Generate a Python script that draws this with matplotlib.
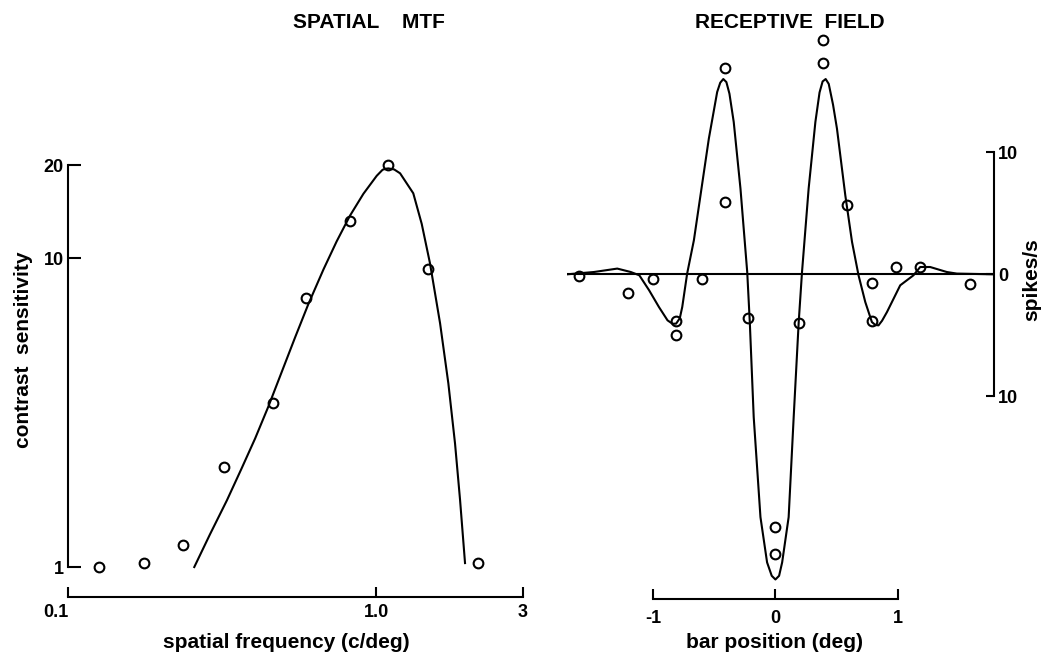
import matplotlib
matplotlib.use("Agg")
import matplotlib.pyplot as plt
from matplotlib.ticker import NullLocator, NullFormatter

plt.rcParams['font.family'] = ['Liberation Sans', 'DejaVu Sans']
plt.rcParams['font.weight'] = 'bold'
plt.rcParams['axes.labelweight'] = 'bold'

# spatial MTF: measured contrast sensitivity
mtf_freq = [0.126, 0.176, 0.237, 0.322, 0.464, 0.593, 0.823, 1.09, 1.47, 2.14]
mtf_sens = [1.0, 1.03, 1.18, 2.1, 3.4, 7.4, 13.2, 20.0, 9.2, 1.03]

# fitted MTF curve
fit_freq = [0.257, 0.289, 0.328, 0.366, 0.405, 0.447, 0.494, 0.546, 0.603,
            0.675, 0.745, 0.823, 0.910, 1.005, 1.05, 1.075, 1.096, 1.145,
            1.197, 1.321, 1.407, 1.497, 1.614, 1.717, 1.805, 1.874, 1.945]
fit_sens = [1.0, 1.276, 1.644, 2.084, 2.606, 3.304, 4.276, 5.534, 7.096,
            9.183, 11.32, 13.71, 16.14, 18.45, 19.3, 19.45, 19.5, 19.35,
            18.8, 16.2, 12.9, 9.61, 6.15, 3.93, 2.51, 1.65, 1.03]

# receptive field: response to a bar at each position
rf_pos = [-1.60, -1.20, -1.00, -0.81, -0.81, -0.60, -0.41, -0.41, -0.22, 0.0,
          0.0, 0.195, 0.39, 0.39, 0.58, 0.79, 0.79, 0.985, 1.18, 1.59]
rf_rate = [-0.16, -1.5, -0.35, -3.85, -5.0, -0.35, 16.9, 5.9, -3.6, -20.7,
           -22.9, -4.0, 19.2, 17.3, 5.7, -0.7, -3.8, 0.6, 0.6, -0.77]

# receptive field predicted from the MTF fit
rf_fit_pos = [-1.70, -1.48, -1.29, -1.18, -1.11, -1.03, -0.95, -0.88, -0.84,
              -0.81, -0.78, -0.76, -0.72, -0.665, -0.611, -0.543, -0.475,
              -0.45, -0.425, -0.40, -0.375, -0.340, -0.285, -0.230, -0.209,
              -0.177, -0.122, -0.068, -0.03, 0.0, 0.03, 0.055, 0.108, 0.149,
              0.190, 0.217, 0.271, 0.326, 0.360, 0.385, 0.41, 0.435, 0.470,
              0.502, 0.570, 0.625, 0.678, 0.733, 0.787, 0.815, 0.841, 0.870,
              0.910, 1.018, 1.126, 1.181, 1.262, 1.398, 1.480, 1.78]
rf_fit_rate = [0.0, 0.19, 0.47, 0.19, -0.08, -1.31, -2.68, -3.77, -4.05,
               -4.04, -3.6, -2.68, 0.06, 2.79, 6.48, 11.12, 14.94,
               15.7, 16.0, 15.75, 14.8, 12.48, 7.02, 0.19, -3.91,
               -11.70, -19.89, -23.6, -24.7, -25.0, -24.7, -23.6, -19.89, -11.70,
               -3.91, 0.19, 7.02, 12.48, 14.9, 15.8, 16.0, 15.6, 13.9,
               11.94, 6.48, 2.65, -0.08, -2.27, -3.91, -4.15, -4.18, -3.8,
               -3.09, -0.90, -0.08, 0.60, 0.60, 0.19, 0.06, 0.0]

W, H = 1043, 657
fig = plt.figure(figsize=(W / 100, H / 100), dpi=100)

ax1 = fig.add_axes([68 / W, 1 - 597 / H, 455 / W, 432 / H])
ax2 = fig.add_axes([567 / W, 1 - 599 / H, 427 / W, 581 / H])

circ = dict(linestyle='none', marker='o', mfc='none', mec='k', mew=1.5, ms=7,
            clip_on=False, zorder=3)

# left: spatial MTF on log-log axes
ax1.set_xscale('log')
ax1.set_yscale('log')
ax1.plot(fit_freq, fit_sens, color='k', lw=1.5)
ax1.plot(mtf_freq, mtf_sens, **circ)
ax1.set_xlim(0.1, 3)
ax1.set_ylim(0.8, 20)
ax1.spines[['top', 'right']].set_visible(False)
ax1.spines['left'].set_bounds(1, 20)
ax1.spines['bottom'].set_bounds(0.1, 3)
for s in ax1.spines.values():
    s.set_linewidth(1.5)
ax1.set_xticks([0.1, 1.0, 3])
ax1.set_xticklabels(['0.1', '1.0', '3'])
ax1.get_xticklabels()[0].set_horizontalalignment('right')
ax1.set_yticks([1, 10, 20])
ax1.set_yticklabels(['1', '10', '20'])
for axis in (ax1.xaxis, ax1.yaxis):
    axis.set_minor_locator(NullLocator())
    axis.set_minor_formatter(NullFormatter())
ax1.tick_params(axis='x', direction='in', length=7, width=1.5, pad=5, labelsize=13)
ax1.tick_params(axis='y', direction='in', length=9, width=1.5, pad=3, labelsize=13)
ax1.set_xlabel('spatial frequency (c/deg)', fontsize=15)
ax1.xaxis.set_label_coords(0.479, -0.083)
ax1.set_ylabel('contrast  sensitivity', fontsize=15)
ax1.yaxis.set_label_coords(-0.077, 0.572)

# right: receptive field profile
ax2.axhline(0, color='k', lw=1.5)
ax2.plot(rf_fit_pos, rf_fit_rate, color='k', lw=1.5)
ax2.plot(rf_pos, rf_rate, **circ)
ax2.set_xlim(-1.70, 1.783)
ax2.set_ylim(-26.6, 21)
ax2.spines[['top', 'left']].set_visible(False)
ax2.spines['right'].set_bounds(-10, 10)
ax2.spines['bottom'].set_bounds(-1, 1)
for s in ax2.spines.values():
    s.set_linewidth(1.5)
ax2.yaxis.tick_right()
ax2.set_yticks([-10, 0, 10])
ax2.set_yticklabels(['10', '0', '10'])
ax2.set_xticks([-1, 0, 1])
ax2.set_xticklabels(['-1', '0', '1'])
ax2.tick_params(axis='x', direction='in', length=7, width=1.5, pad=8, labelsize=13)
ax2.tick_params(axis='y', direction='in', length=6, width=1.5, pad=3, labelsize=13)
ax2.set_xlabel('bar position (deg)', fontsize=15)
ax2.xaxis.set_label_coords(0.485, -0.0585)
ax2.yaxis.set_label_position('right')
ax2.set_ylabel('spikes/s', fontsize=15)
ax2.yaxis.set_label_coords(1.066, 0.549)

fig.text(369 / W, 1 - 23 / H, 'SPATIAL    MTF', ha='center', va='center', fontsize=15)
fig.text(790 / W, 1 - 23 / H, 'RECEPTIVE  FIELD', ha='center', va='center', fontsize=15)

fig.savefig('out.png', dpi=100)
